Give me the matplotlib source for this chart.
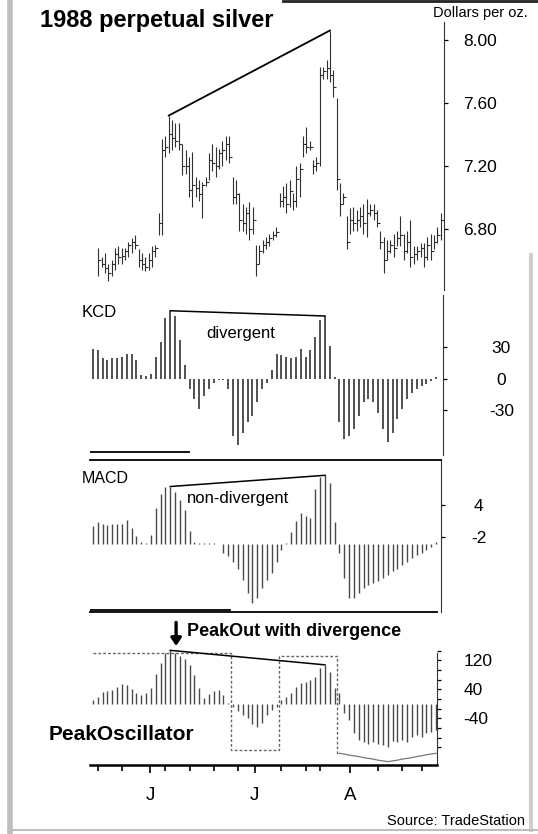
import numpy as np
import matplotlib
matplotlib.use('Agg')
import matplotlib.pyplot as plt
from matplotlib.lines import Line2D

plt.rcParams['font.family'] = ['Liberation Sans', 'DejaVu Sans']

# daily price bars, dollars per oz.
highs = [6.68, 6.62, 6.65, 6.58, 6.60, 6.68, 6.69, 6.68, 6.68, 6.72,
         6.74, 6.76, 6.67, 6.65, 6.62, 6.65, 6.69, 6.70, 6.90, 7.37,
         7.39, 7.52, 7.49, 7.47, 7.47, 7.34, 7.30, 7.26, 7.29, 7.13,
         7.11, 7.10, 7.13, 7.28, 7.34, 7.32, 7.31, 7.36, 7.39, 7.39,
         7.13, 7.11, 7.03, 6.96, 6.94, 6.97, 6.94, 6.70, 6.70, 6.73,
         6.75, 6.77, 6.79, 6.81, 7.03, 7.07, 7.09, 7.11, 7.03, 7.20,
         7.22, 7.39, 7.45, 7.36, 7.24, 7.26, 7.83, 7.83, 7.87, 8.06,
         7.81, 7.63, 7.09, 7.03, 6.88, 6.93, 6.94, 6.92, 6.94, 6.96,
         6.99, 6.96, 6.96, 6.92, 6.79, 6.75, 6.73, 6.73, 6.77, 6.79,
         6.88, 6.77, 6.79, 6.86, 6.69, 6.69, 6.71, 6.71, 6.75, 6.77,
         6.76, 6.81, 6.90]
lows = [6.50, 6.56, 6.52, 6.47, 6.50, 6.54, 6.58, 6.58, 6.60, 6.62,
        6.65, 6.67, 6.56, 6.54, 6.53, 6.54, 6.56, 6.62, 6.76, 6.76,
        7.26, 7.28, 7.30, 7.32, 7.30, 7.14, 7.15, 7.00, 6.94, 7.00,
        6.98, 6.87, 7.07, 7.11, 7.17, 7.13, 7.18, 7.20, 7.24, 7.22,
        6.96, 6.96, 6.79, 6.79, 6.77, 6.73, 6.77, 6.50, 6.58, 6.65,
        6.67, 6.69, 6.73, 6.75, 6.94, 6.94, 6.90, 6.94, 6.92, 6.94,
        7.00, 7.26, 7.28, 7.30, 7.15, 7.17, 7.20, 7.75, 7.75, 7.73,
        7.64, 7.05, 6.88, 6.96, 6.67, 6.77, 6.79, 6.79, 6.81, 6.77,
        6.75, 6.88, 6.86, 6.81, 6.67, 6.52, 6.60, 6.65, 6.62, 6.69,
        6.69, 6.60, 6.65, 6.56, 6.58, 6.60, 6.62, 6.56, 6.60, 6.60,
        6.67, 6.71, 6.73]
closes = [6.60, 6.58, 6.55, 6.52, 6.58, 6.64, 6.62, 6.63, 6.66, 6.70,
          6.72, 6.70, 6.60, 6.58, 6.56, 6.60, 6.66, 6.68, 6.84, 7.30,
          7.32, 7.40, 7.38, 7.36, 7.34, 7.20, 7.20, 7.05, 7.08, 7.06,
          7.02, 7.08, 7.10, 7.24, 7.22, 7.20, 7.28, 7.30, 7.34, 7.26,
          7.00, 7.02, 6.86, 6.84, 6.90, 6.80, 6.86, 6.58, 6.66, 6.70,
          6.72, 6.74, 6.76, 6.78, 6.98, 7.00, 6.96, 7.04, 6.98, 7.12,
          7.18, 7.34, 7.32, 7.32, 7.20, 7.22, 7.78, 7.80, 7.82, 7.78,
          7.70, 7.12, 6.96, 7.00, 6.72, 6.86, 6.84, 6.86, 6.88, 6.84,
          6.90, 6.92, 6.90, 6.84, 6.72, 6.60, 6.66, 6.70, 6.68, 6.74,
          6.76, 6.66, 6.72, 6.62, 6.64, 6.66, 6.68, 6.62, 6.70, 6.66,
          6.72, 6.76, 6.86]

# oscillators, one value per session
kcd = [29, 27.5, 20, 18, 20, 20, 21, 24, 24, 18,
       4, 2.5, 5, 21, 35, 58, 65, 60, 37, 13,
       -10, -19, -29, -16, -10, -4, -1, -1, -10, -54,
       -63, -51, -41, -35, -22, -10, -4, 9, 24, 23,
       21, 20, 21, 29, 21, 27.5, 40, 56, 60, 31,
       2, -41, -57, -54, -48, -35, -22, -19, -22, -32,
       -48, -60, -51, -38, -29, -19, -13, -10, -7, -5,
       -2, 2]
macd = [1.9, 2.3, 2.05, 2.0, 2.1, 2.1, 2.05, 2.45, 1.65, 0.8,
        0.2, 0.1, 0.95, 3.7, 5.1, 5.8, 5.9, 5.3, 4.5, 3.5,
        1.3, 0.2, 0.07, 0.07, 0.07, 0.07, 0.05, -0.9, -1.25, -1.8,
        -2.6, -3.65, -5.0, -6.05, -5.5, -4.5, -3.65, -3.0, -1.8, -0.6,
        0.1, 1.2, 2.4, 3.2, 2.85, 2.65, 5.6, 6.85, 7.05, 6.25,
        2.3, -0.9, -3.5, -5.55, -5.55, -5.0, -4.5, -4.2, -4.0, -3.75,
        -3.5, -3.15, -2.8, -2.6, -2.1, -1.8, -1.45, -1.1, -0.9, -0.6,
        -0.35, 0.2]
peak_osc = [11, 20, 33, 37, 39, 48, 56, 52, 42, 29,
            26, 29, 43, 83, 112, 140, 148, 140, 132, 123,
            108, 80, 43, 16, 28, 37, 39, 25, 2, -9,
            -18, -30, -40, -55, -63, -53, -30, -17, -7, 11,
            20, 29, 48, 57, 62, 66, 75, 98, 108, 89,
            43, 29, -26, -44, -81, -99, -104, -109, -104, -109,
            -113, -118, -101, -104, -99, -104, -90, -86, -90, -81,
            -76, -72]
peak_level = ([140] * 29 + [-127] * 10 + [132] * 12 +
              [-136, -138, -141, -143, -145, -148, -150, -152, -155, -157,
               -159, -157, -155, -152, -150, -148, -145, -143, -140, -138, -136])

# divergence lines: peak bars
price_peaks = [21, 69]
osc_peaks = [16, 48]

price_ticks = [8.00, 7.60, 7.20, 6.80]
price_labels = ['8.00', '7.60', '7.20', '6.80']
kcd_ticks = [30, 0, -30]
kcd_labels = ['30', '0', '-30']
macd_ticks = [4, 0.7]
macd_labels = ['4', '-2']
osc_ticks = [120, 40, -40]
osc_labels = ['120', '40', '-40']
week_ticks = [1, 6, 15, 20, 25, 30, 39, 44, 47, 59, 64, 68]
month_ticks = [11.8, 33.5, 53.2]
month_labels = ['J', 'J', 'A']

W, H = 538, 834
fig = plt.figure(figsize=(W / 100, H / 100), dpi=100)


def box(x0, y0, x1, y1):
    # pixel box, origin top-left -> figure fraction
    return [x0 / W, 1 - y1 / H, (x1 - x0) / W, (y1 - y0) / H]


def bare(ax):
    ax.set_facecolor('none')
    for s in ax.spines.values():
        s.set_visible(False)
    ax.set_xticks([])


ink = '#222222'
grey = '#4a4a4a'

# ---- price panel ----
ax_p = fig.add_axes(box(90, 22, 444, 290))
bare(ax_p)
xp = np.arange(len(highs))
ax_p.vlines(xp, lows, highs, color='#303030', lw=0.8)
ax_p.plot(xp, closes, ls='none', marker=1, ms=2.5, mew=0.8, color='#303030')
ax_p.plot(xp[price_peaks], np.array(highs)[price_peaks], color='black', lw=1.3)
ax_p.set_xlim(-2.46, 102.98)
ax_p.set_ylim(6.4125, 8.114)
ax_p.spines['right'].set_visible(True)
ax_p.spines['right'].set_color('#333333')
ax_p.yaxis.tick_right()
ax_p.set_yticks(price_ticks, price_labels)
ax_p.tick_params(axis='y', direction='out', length=3, width=0.9, labelsize=12.5, pad=10.5)

# ---- KCD panel ----
xo = np.arange(len(kcd))
ax_k = fig.add_axes(box(90, 295, 443, 455))
bare(ax_k)
ax_k.vlines(xo, 0, kcd, color=ink, lw=1.1)
ax_k.plot(xo[osc_peaks], np.array(kcd)[osc_peaks], color='black', lw=1.1)
ax_k.set_xlim(-0.62, 72.45)
ax_k.set_ylim(-72.4, 80)
ax_k.spines['right'].set_visible(True)
ax_k.spines['right'].set_color('#333333')
ax_k.yaxis.tick_right()
ax_k.set_yticks(kcd_ticks, kcd_labels)
ax_k.tick_params(axis='y', direction='out', length=3, width=0.9, labelsize=12.5, pad=39)
for lb in ax_k.get_yticklabels():
    lb.set_horizontalalignment('center')
ax_k.plot([0, 0.28], [0.02, 0.02], transform=ax_k.transAxes, color='black', lw=1.3)
ax_k.text(-0.023, 0.89, 'KCD', transform=ax_k.transAxes, fontsize=12, va='center')
ax_k.text(0.33, 0.76, 'divergent', transform=ax_k.transAxes, fontsize=12, va='center')

# ---- MACD panel ----
ax_m = fig.add_axes(box(90, 460, 441, 612))
bare(ax_m)
ax_m.vlines(xo, 0, macd, color=grey, lw=1.0)
ax_m.plot(xo[osc_peaks], np.array(macd)[osc_peaks], color='black', lw=1.1)
ax_m.set_xlim(-0.62, 72.0)
ax_m.set_ylim(-6.97, 8.62)
ax_m.spines['top'].set_visible(True)
ax_m.spines['top'].set_linewidth(1.3)
ax_m.spines['right'].set_visible(True)
ax_m.spines['right'].set_color('#333333')
ax_m.yaxis.tick_right()
ax_m.set_yticks(macd_ticks, macd_labels)
ax_m.tick_params(axis='y', direction='out', length=3, width=0.9, labelsize=12.5, pad=24)
for lb in ax_m.get_yticklabels():
    lb.set_horizontalalignment('center')
ax_m.plot([0, 0.4], [0.013, 0.013], transform=ax_m.transAxes, color='black', lw=1.3)
ax_m.text(-0.023, 0.88, 'MACD', transform=ax_m.transAxes, fontsize=11.5, va='center')
ax_m.text(0.275, 0.75, 'non-divergent', transform=ax_m.transAxes, fontsize=12, va='center')

# ---- PeakOscillator panel ----
ax_o = fig.add_axes(box(90, 612, 437, 765))
ax_o.set_facecolor('none')
ax_o.vlines(xo, 0, peak_osc, color=grey, lw=1.0)
ax_o.plot(xo[:52], peak_level[:52], drawstyle='steps-mid', ls=(0, (2, 1.5)), color='#666666', lw=1.0)
ax_o.plot(xo[51:], peak_level[51:], color='#777777', lw=0.9)
ax_o.plot(xo[osc_peaks], np.array(peak_osc)[osc_peaks], color='black', lw=1.1)
ax_o.annotate('', xy=(17.2, 160), xytext=(17.2, 225),
              arrowprops=dict(arrowstyle='-|>,head_width=0.3,head_length=0.45',
                              lw=2.4, color='black', shrinkA=0, shrinkB=0))
ax_o.set_xlim(-0.62, 71.2)
ax_o.set_ylim(-168.3, 253.8)
ax_o.spines['left'].set_visible(False)
ax_o.spines['top'].set_linewidth(1.3)
ax_o.spines['bottom'].set_linewidth(1.8)
ax_o.spines['right'].set_color('#333333')
ax_o.spines['right'].set_bounds(-168.3, 140)
ax_o.yaxis.tick_right()
ax_o.set_yticks(osc_ticks, osc_labels)
ax_o.set_yticks(np.arange(-120, 150, 80 / 3), minor=True)
ax_o.tick_params(axis='y', which='both', direction='out', length=3, width=0.9, labelsize=12.5, pad=16)
ax_o.set_xticks(month_ticks, month_labels)
ax_o.set_xticks(week_ticks, minor=True)
ax_o.tick_params(axis='x', which='major', direction='out', length=6, width=1.2, labelsize=13.5, pad=10)
ax_o.tick_params(axis='x', which='minor', direction='out', length=4, width=1.2)
ax_o.text(0.28, 0.87, 'PeakOut with divergence', transform=ax_o.transAxes,
          fontsize=13, fontweight='bold', va='center')
ax_o.text(-0.12, 0.2, 'PeakOscillator', transform=ax_o.transAxes,
          fontsize=15, fontweight='bold', va='center')

# ---- page texts and scan borders ----
fig.text(40 / W, 1 - 21 / H, '1988 perpetual silver', fontsize=17, fontweight='bold', va='center')
fig.text(433 / W, 1 - 13 / H, 'Dollars per oz.', fontsize=10.5, va='center')
fig.text(387 / W, 1 - 821 / H, 'Source: TradeStation', fontsize=10.5, va='center')
fig.add_artist(Line2D([10 / W, 10 / W], [0, 1], color='#bdbdbd', lw=4))
fig.add_artist(Line2D([531 / W, 531 / W], [1 - 830 / H, 1 - 255 / H], color='#cfcfcf', lw=3))
fig.add_artist(Line2D([8 / W, 1], [1 - 830 / H, 1 - 830 / H], color='#bdbdbd', lw=1.5))
fig.add_artist(Line2D([283 / W, 1], [1 - 1 / H, 1 - 1 / H], color='#222222', lw=2))

fig.savefig('out.png', dpi=100)
